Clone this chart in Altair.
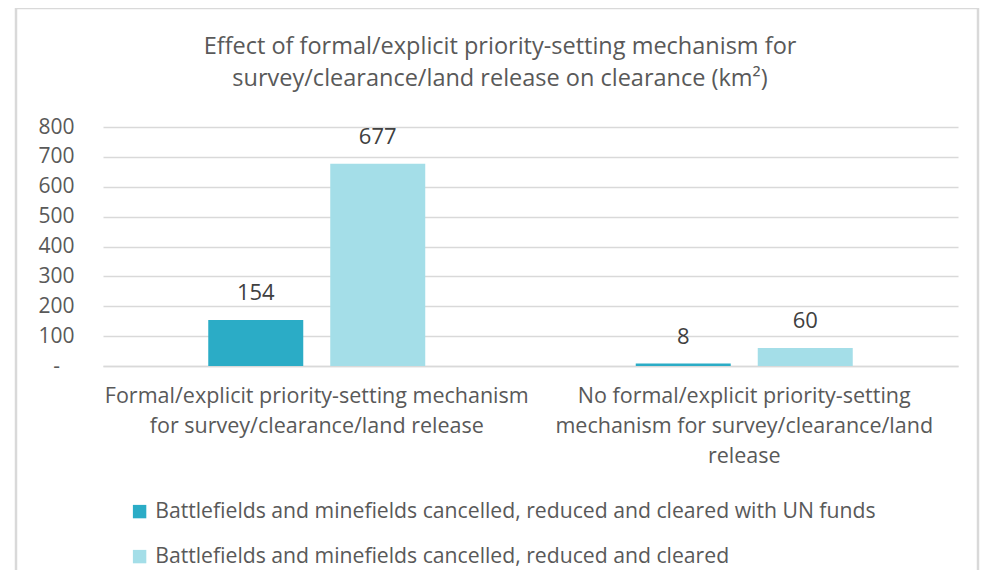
import altair as alt
import pandas as pd

categories = [
    "Formal/explicit priority-setting mechanism|for survey/clearance/land release",
    "No formal/explicit priority-setting|mechanism for survey/clearance/land|release",
]
series = [
    "Battlefields and minefields cancelled, reduced and cleared with UN funds",
    "Battlefields and minefields cancelled, reduced and cleared",
]
values_un = [154, 8]
values_all = [677, 60]
colors = ["#2BACC6", "#A4DEE8"]
title_lines = [
    "Effect of formal/explicit priority-setting mechanism for",
    "survey/clearance/land release on clearance (km²)",
]
y_ticks = [0, 100, 200, 300, 400, 500, 600, 700, 800]

rows = []
for i, c in enumerate(categories):
    rows.append({"category": c, "series": series[0], "value": values_un[i]})
    rows.append({"category": c, "series": series[1], "value": values_all[i]})
df = pd.DataFrame(rows)

FONT = "Open Sans"
GREY = "#595959"

x_enc = alt.X(
    "category:N",
    sort=categories,
    scale=alt.Scale(paddingInner=0.4924, paddingOuter=0.2462),
    axis=alt.Axis(
        title=None,
        labelExpr="split(datum.label, '|')",
        labelAngle=0,
        labelFontSize=21.5,
        labelLineHeight=30,
        labelColor=GREY,
        labelFont=FONT,
        labelPadding=19,
        labelBaseline="top",
        ticks=False,
        tickSize=0,
        grid=False,
        domainColor="#d9d9d9",
        domainWidth=1.5,
        labelLimit=0,
    ),
)
xoff = alt.XOffset("series:N", sort=series, scale=alt.Scale(paddingInner=0.2213, paddingOuter=0))
y_enc = alt.Y(
    "value:Q",
    scale=alt.Scale(domain=[0, 800], nice=False),
    axis=alt.Axis(
        title=None,
        values=y_ticks,
        labelOverlap=False,
        labelExpr="datum.value == 0 ? '-' : datum.label",
        labelAlign="center",
        labelPadding=47,
        labelFontSize=21,
        labelColor=GREY,
        labelFont=FONT,
        ticks=False,
        tickSize=0,
        domain=False,
        gridColor="#d9d9d9",
        gridWidth=1.5,
    ),
)

base = alt.Chart(df).encode(x=x_enc, xOffset=xoff, y=y_enc)
bars = base.mark_bar().encode(
    color=alt.Color(
        "series:N",
        sort=series,
        scale=alt.Scale(domain=series, range=colors),
        legend=alt.Legend(
            title=None,
            orient="none",
            legendX=26,
            legendY=374,
            direction="vertical",
            symbolType="square",
            symbolSize=180,
            symbolStrokeWidth=0,
            labelFontSize=21.2,
            labelFont=FONT,
            labelColor=GREY,
            labelOffset=5,
            rowPadding=23,
            labelLimit=0,
        ),
    ),
)
labels = base.mark_text(baseline="middle", dy=-27, fontSize=22, font=FONT, color="#404040").encode(
    text="value:Q",
)

frame = alt.Chart(pd.DataFrame({"a": [0]})).mark_rect(
    fill=None, stroke="#d9d9d9", strokeWidth=2.5, clip=False
).encode(
    x=alt.value(-87),
    x2=alt.value(875),
    y=alt.value(-119),
    y2=alt.value(480),
)

title = alt.Chart(pd.DataFrame({"a": [0]})).mark_text(
    text=title_lines,
    lineHeight=32,
    fontSize=23.5,
    font=FONT,
    color=GREY,
    align="center",
    baseline="top",
).encode(
    x=alt.value(397),
    y=alt.value(-92),
)

chart = (
    alt.layer(frame, title, bars, labels)
    .properties(
        width=855,
        height=239,
        autosize=alt.AutoSizeParams(type="none"),
        padding={"left": 95, "top": 119, "right": 22, "bottom": 204},
    )
    .configure(background="white")
    .configure_view(stroke="transparent", strokeWidth=0)
)

chart.save("out.html", embed_options={"renderer": "svg", "actions": False})
